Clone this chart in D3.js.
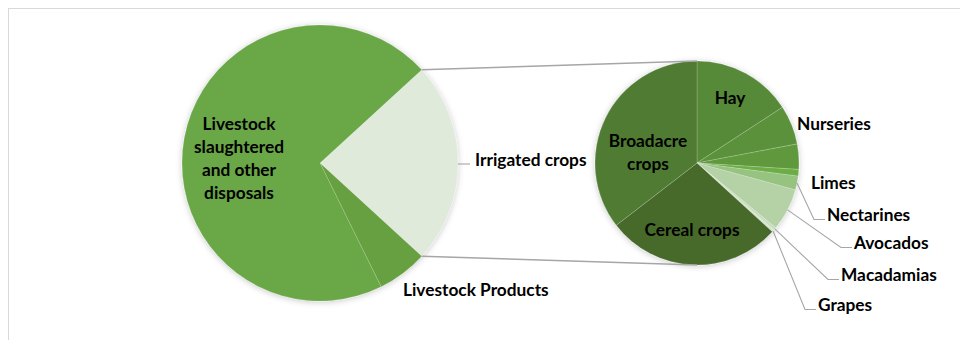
<!DOCTYPE html>
<html>
<head>
<meta charset="utf-8">
<script src="https://cdn.jsdelivr.net/npm/d3@7"></script>
<style>
  html, body { margin: 0; padding: 0; background: #fff; }
  svg { display: block; }
  text { font-family: Lato, "Open Sans", sans-serif; font-weight: 700; fill: #000; }
</style>
</head>
<body>
<svg id="chart" width="960" height="340"></svg>
<script>
// ---- data ----
const mainCategories = ["Irrigated crops", "Livestock Products", "Livestock slaughtered and other disposals"];
const mainValues = [23.6, 5.9, 70.5];

const irrigatedCategories = ["Hay", "Nurseries", "", "Limes", "Nectarines", "Avocados", "Macadamias", "Grapes", "Cereal crops", "Broadacre crops"];
const irrigatedValues = [15.8, 6.2, 4.0, 1.05, 2.2, 6.7, 0.47, 0.36, 27.75, 35.45];

// ---- styles ----
const mainColors = ["#e0eadb", "#66a040", "#6aa746"];
const irrigatedColors = ["#568938", "#5b913a", "#60993d", "#6cae44", "#96c480", "#b5d2a6", "#c8debc", "#d7e6cd", "#466b2b", "#4f7b32"];

const svg = d3.select("#chart");
const FS = 17.3;

// frame
svg.append("rect").attr("x", 8.5).attr("y", 8.5).attr("width", 1200).attr("height", 1200)
  .attr("fill", "none").attr("stroke", "#d9d9d9").attr("stroke-width", 1);

// shadow filter
const defs = svg.append("defs");
const f = defs.append("filter").attr("id", "sh").attr("x", "-20%").attr("y", "-20%").attr("width", "140%").attr("height", "140%");
f.append("feDropShadow").attr("dx", 0).attr("dy", 1).attr("stdDeviation", 3)
  .attr("flood-color", "#000").attr("flood-opacity", 0.22);

// ---- main pie ----
const L = { cx: 320, cy: 163, r: 138 };
const mainTotal = d3.sum(mainValues);
const irrSpan = 2 * Math.PI * mainValues[0] / mainTotal;
const a0 = Math.PI / 2 - irrSpan / 2;
const mainPie = d3.pie().sort(null).value(d => d).startAngle(a0).endAngle(a0 + 2 * Math.PI);
const mainArcs = mainPie(mainValues);
const arcL = d3.arc().innerRadius(0).outerRadius(L.r);

const gL = svg.append("g").attr("transform", `translate(${L.cx},${L.cy})`).attr("filter", "url(#sh)");
gL.selectAll("path").data(mainArcs).join("path")
  .attr("d", arcL)
  .attr("fill", (d, i) => mainColors[i])
  .attr("stroke", "rgba(255,255,255,0.3)").attr("stroke-width", 0.5);

// ---- second pie ----
const R = { cx: 697, cy: 163, r: 102 };
const subPie = d3.pie().sort(null).value(d => d).startAngle(0).endAngle(2 * Math.PI);
const subArcs = subPie(irrigatedValues);
const arcR = d3.arc().innerRadius(0).outerRadius(R.r);

const gR = svg.append("g").attr("transform", `translate(${R.cx},${R.cy})`).attr("filter", "url(#sh)");
gR.selectAll("path").data(subArcs).join("path")
  .attr("d", arcR)
  .attr("fill", (d, i) => irrigatedColors[i])
  .attr("stroke", "rgba(255,255,255,0.3)").attr("stroke-width", 0.6);

// ---- connector lines ----
const pt = (c, r, a) => [c.cx + r * Math.sin(a), c.cy - r * Math.cos(a)];
const irr = mainArcs[0];
const p1 = pt(L, L.r, irr.startAngle), p2 = pt(L, L.r, irr.endAngle);
svg.append("line").attr("x1", p1[0]).attr("y1", p1[1]).attr("x2", R.cx).attr("y2", R.cy - R.r)
  .attr("stroke", "#a6a6a6").attr("stroke-width", 1.4);
svg.append("line").attr("x1", p2[0]).attr("y1", p2[1]).attr("x2", R.cx).attr("y2", R.cy + R.r)
  .attr("stroke", "#a6a6a6").attr("stroke-width", 1.4);

// ---- labels ----
function label(x, y, lines, anchor) {
  const t = svg.append("text").attr("x", x).attr("y", y - 1.5).attr("text-anchor", anchor || "start")
    .attr("font-size", FS).attr("dominant-baseline", "central");
  lines.forEach((ln, i) => t.append("tspan").attr("x", x).attr("dy", i === 0 ? -(lines.length - 1) * 11.35 : 22.7).text(ln));
}
function leader(a, c, r, lx, ly) {
  const s = pt(c, r, a);
  svg.append("polyline")
    .attr("points", [s, [lx - 13, ly + 4.5], [lx - 2, ly + 4.5]].map(p => p.join(",")).join(" "))
    .attr("fill", "none").attr("stroke", "#a6a6a6").attr("stroke-width", 1.1);
}
const mid = d => (d.startAngle + d.endAngle) / 2;

// main pie labels
label(L.cx - 81, L.cy - 4, ["Livestock", "slaughtered", "and other", "disposals"], "middle");
{
  const a = mid(mainArcs[0]);
  const s = pt(L, L.r, a);
  svg.append("line").attr("x1", s[0]).attr("y1", s[1] + 1).attr("x2", s[0] + 12).attr("y2", s[1] + 1)
    .attr("stroke", "#a6a6a6").attr("stroke-width", 1.1);
  label(s[0] + 17, s[1] - 3, [mainCategories[0]]);
}
label(403, 290, [mainCategories[1]]);

// second pie labels
label(R.cx + 33, R.cy - 65, [irrigatedCategories[0]], "middle");
label(R.cx - 49, R.cy - 10, ["Broadacre", "crops"], "middle");
label(R.cx - 5, R.cy + 67, [irrigatedCategories[8]], "middle");
label(797, 124, [irrigatedCategories[1]]);
label(811, 183, [irrigatedCategories[3]]);

const outside = [
  { i: 4, x: 827, y: 215 },
  { i: 5, x: 854, y: 243 },
  { i: 6, x: 841, y: 275 },
  { i: 7, x: 818, y: 305 }
];
outside.forEach(o => {
  leader(mid(subArcs[o.i]), R, R.r, o.x, o.y);
  label(o.x, o.y, [irrigatedCategories[o.i]]);
});
</script>
</body>
</html>
